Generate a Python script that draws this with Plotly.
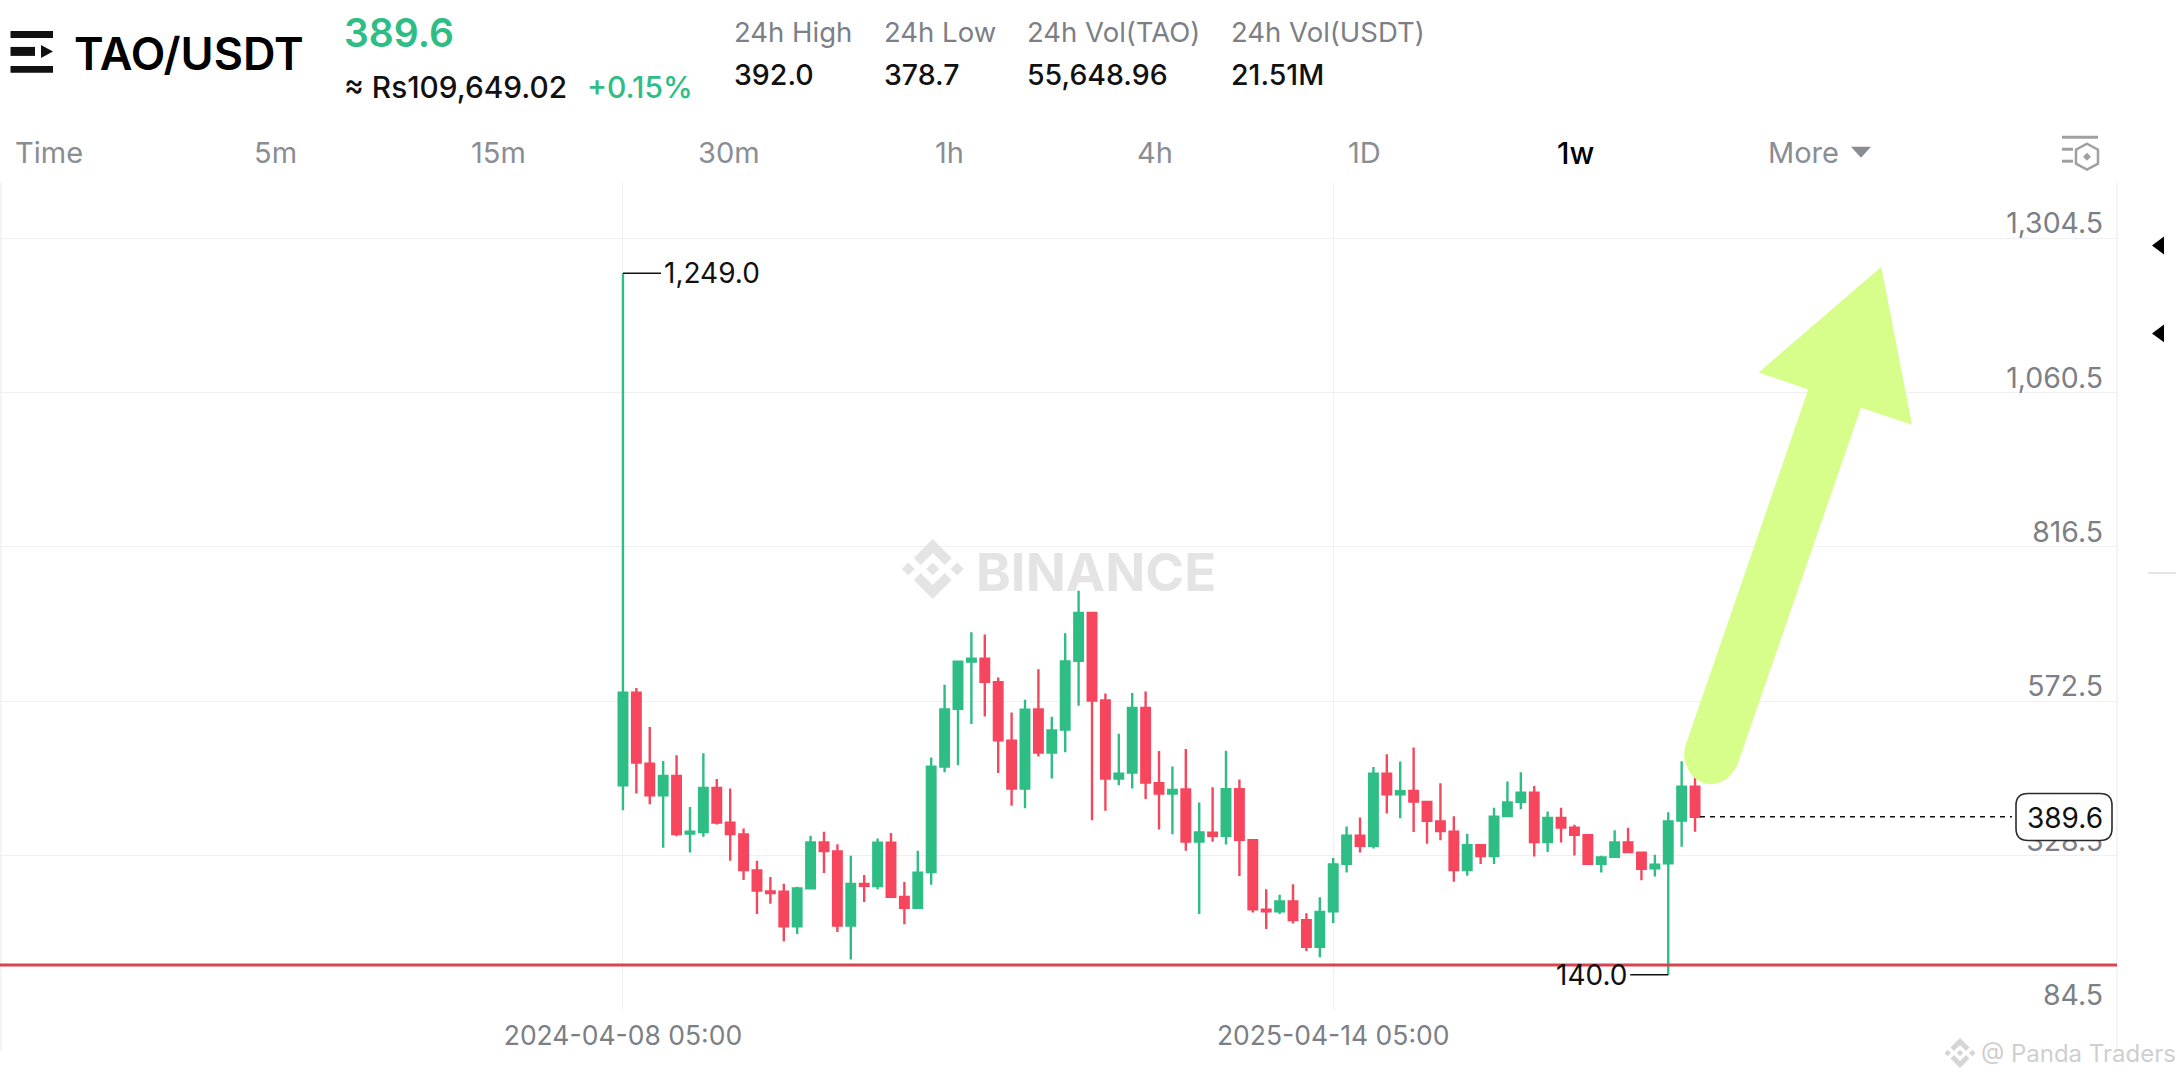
import pandas as pd
import plotly.graph_objects as go

W, H = 2176, 1080

# ---- data ----
first_week = "2024-04-08 05:00"
opens = [439.6,586,473.8,423.8,454.3,363.3,365.5,435.4,380.2,361.8,305,271.8,271.3,216.6,276.6,349,335,217.6,283.4,280.2,
         348.6,262.9,246,302.3,469.1,560.6,635.3,639.5,602.7,510.1,434.4,559.5,491.2,527.5,636.3,712.1,573.7,450.1,459.6,561.7,
         442.8,426.5,432.8,350.7,364.4,359.7,433.3,352.8,242.9,240.3,256,226.1,184,240.3,315.5,359.7,343.9,458,425.4,430.7,
         413.3,382.3,366,305.5,344.9,327.6,390.7,413.3,428,349.7,388,372.3,360.7,315.5,326.5,349,332.8,308.1,316,383.8,437.5]
closes = [585.8,475.4,423.8,454.3,362.3,366,435.4,380.7,362.3,305.5,272.9,269.2,216.6,276.6,349,335.5,217.6,283.4,280.8,348.6,
          263.4,246,301.3,469.1,559.5,634.8,639.5,603.2,510.6,434.4,559,491.2,526.4,635.3,712.1,573.7,450.1,458,561.7,443.8,
          426.5,432.3,350.7,364.9,359.7,433.3,353.4,243.4,240.3,256,226.6,184,239.2,314.4,359.7,343.9,458,425.4,430.2,413.8,
          383.3,367,305.5,344.9,327.6,389.7,412.3,428,349.7,388,372.8,361.2,315.5,325.5,349,333.9,307.6,313.9,382.3,437.5,389.6]
highs = [1249,593.2,531.7,478,487,405.4,490.1,449.6,434.4,371.2,320.2,294.4,284,279.2,359.7,366,346.5,328.1,297.6,355.5,
         363.9,286.5,336,483.3,598.5,635.8,681.6,677.9,610,554.8,574.8,623.2,548,680,747.3,712.1,584.8,521.2,585.3,587.9,
         493.8,469.1,497,412.3,436.5,494.3,448.6,354.4,275,266.6,282.9,237.1,262.4,324.4,374.4,388.6,468.6,488.5,477,499.1,
         414.9,442.8,390.7,362.8,346.5,403.9,445.4,460.1,438.6,398.1,403.9,377,362.3,328.1,368.6,372.3,333.9,329.7,397,477.4,454.3]
lows = [400.2,426.5,409.6,340.7,359,333.4,358.1,377.6,320.2,289.7,236.1,252.4,193,204.5,275.5,300.8,207.6,164,255,275,
        261.3,219.8,246,282.3,460.1,471.2,536.4,548.5,459.1,407,403.3,484.9,450.1,491.7,565.3,384.4,399.1,439.6,434.4,418,
        369.7,362.3,336,236.1,350.2,346,296,238.2,212.4,236.1,220.8,177.7,167.7,221.9,301.8,333.4,339.7,394.9,387.5,365.5,
        347,352.8,287.1,296.5,315,315,390.7,401.8,327.1,333.9,349.1,328.6,315.5,301.8,325.5,332.8,289.2,295.5,140,342.2,365.9]
price_ticks = [84.5, 328.5, 572.5, 816.5, 1060.5, 1304.5]
price_tick_labels = ["84.5", "328.5", "572.5", "816.5", "1,060.5", "1,304.5"]
date_ticks = ["2024-04-08 05:00", "2025-04-14 05:00"]
support_level = 155.5
last_price = 389.6
high_mark = 1249.0
low_mark = 140.0

dates = pd.date_range(first_week, periods=len(opens), freq="7D")

# ---- styles ----
GREEN, RED = "#2EBD85", "#F6465D"
GRID = "#F0F0F0"
GRAY = "#7C7F85"
FONT = "Inter"
PLOT_L, PLOT_R, PLOT_T, PLOT_B = 0, 2117, 183, 1012


def px(x):
    return x / W


def py(y):
    return 1 - y / H


def pts(points, close=True):
    s = "M " + " L ".join(f"{px(x):.5f},{py(y):.5f}" for x, y in points)
    return s + (" Z" if close else "")


t0 = pd.Timestamp(first_week)
fig = go.Figure(go.Candlestick(
    x=dates, open=opens, high=highs, low=lows, close=closes,
    increasing=dict(line=dict(color=GREEN, width=2.4), fillcolor=GREEN),
    decreasing=dict(line=dict(color=RED, width=2.4), fillcolor=RED),
    whiskerwidth=0, showlegend=False,
))

annotations = []


def text(x, y, s, size, color="#1E2329", anchor="left", weight=400):
    annotations.append(dict(
        xref="paper", yref="paper", x=px(x), y=py(y), text=s, showarrow=False,
        xanchor=anchor, yanchor="middle", borderpad=0,
        font=dict(family=FONT, size=size, color=color, weight=weight),
    ))


# header
text(73, 54, "TAO/USDT", 45, "#000000", weight=600)
text(343, 33, "389.6", 39, GREEN, weight=600)
text(343, 87, "≈ Rs109,649.02", 29.8, "#111111", weight=500)
text(586, 87, "+0.15%", 30, GREEN, weight=500)
for x, a, b in [(733, "24h High", "392.0"), (883, "24h Low", "378.7"),
                (1026, "24h Vol(TAO)", "55,648.96"), (1230, "24h Vol(USDT)", "21.51M")]:
    text(x, 32, a, 27.5, GRAY)
    text(x, 75, b, 28.5, "#111111", weight=500)
# interval tabs
for x, s in [(49, "Time"), (275, "5m"), (498, "15m"), (729, "30m"), (949, "1h"),
             (1155, "4h"), (1364, "1D"), (1803, "More")]:
    text(x, 153, s, 29, "#8A8D93", anchor="center")
text(1575, 153, "1w", 30, "#000000", anchor="center", weight=500)
# watermarks
text(1096, 573, "BINANCE", 52.7, "#E4E4E4", anchor="center", weight=700)
text(1980, 1055, "@ Panda Traders", 24, "#CFCFCF")
# price marks
text(2065, 820, "389.6", 28, "#111111", anchor="center", weight=400)
for value, label, ax, anchor in [(high_mark, "1,249.0", 38, "left"), (low_mark, "140.0", -38, "right")]:
    i = highs.index(value) if value == high_mark else lows.index(value)
    annotations.append(dict(
        x=dates[i], y=value, xref="x", yref="y", text=label, showarrow=True, arrowhead=0,
        arrowwidth=1.5, arrowcolor="#111111", ax=ax, ay=0, xanchor=anchor, yanchor="middle",
        standoff=0, startstandoff=0, borderpad=2,
        font=dict(family=FONT, size=28, color="#111111"),
    ))

shapes = []


def poly(points, fill, layer="above"):
    shapes.append(dict(type="path", xref="paper", yref="paper", path=pts(points),
                       fillcolor=fill, line=dict(width=0), layer=layer))


def seg(x0, y0, x1, y1, color, width=1.5):
    shapes.append(dict(type="line", xref="paper", yref="paper", x0=px(x0), x1=px(x1),
                       y0=py(y0), y1=py(y1), line=dict(color=color, width=width), layer="below"))


# chart frame
seg(1, PLOT_T, 1, 1053, GRID, 1.5)
seg(PLOT_R, PLOT_T, PLOT_R, 1053, GRID, 1.5)

# support line and last price line
shapes.append(dict(type="line", xref="paper", yref="y", x0=px(PLOT_L), x1=px(PLOT_R),
                   y0=support_level, y1=support_level, line=dict(color="#D8434F", width=3)))
shapes.append(dict(type="line", xref="paper", yref="y", x0=px(1700), x1=px(2012),
                   y0=last_price, y1=last_price, line=dict(color="#111111", width=1.5, dash="5px,5px")))

# last price box, rounded
bx0, bx1, by0, by1, r = 2016, 2112, 795, 842, 12
p = (f"M {px(bx0+r)},{py(by0)} L {px(bx1-r)},{py(by0)} Q {px(bx1)},{py(by0)} {px(bx1)},{py(by0+r)} "
     f"L {px(bx1)},{py(by1-r)} Q {px(bx1)},{py(by1)} {px(bx1-r)},{py(by1)} L {px(bx0+r)},{py(by1)} "
     f"Q {px(bx0)},{py(by1)} {px(bx0)},{py(by1-r)} L {px(bx0)},{py(by0+r)} Q {px(bx0)},{py(by0)} {px(bx0+r)},{py(by0)} Z")
shapes.append(dict(type="path", xref="paper", yref="paper", path=p, fillcolor="#FFFFFF",
                   line=dict(color="#2A2A2A", width=1.6)))

# big arrow
arrow = (f"M {px(1881.3)},{py(267.3)} L {px(1912)},{py(425.5)} L {px(1861)},{py(408.4)} L {px(1738.3)},{py(763.6)} "
         f"C {px(1728)},{py(792)} {px(1695)},{py(793)} {px(1686)},{py(766)} "
         f"C {px(1683)},{py(757)} {px(1684)},{py(752)} {px(1686)},{py(745.5)} "
         f"L {px(1808.3)},{py(390.2)} L {px(1758.7)},{py(373.1)} Z")
shapes.append(dict(type="path", xref="paper", yref="paper", path=arrow,
                   fillcolor="#D7FE8A", line=dict(width=0)))

# header menu icon
for y0, y1 in [(31, 38), (66, 73)]:
    poly([(10.5, y0), (53, y0), (53, y1), (10.5, y1)], "#111111")
poly([(10.5, 47), (35, 47), (35, 56), (10.5, 56)], "#111111")
poly([(41, 45), (53, 51.5), (41, 58)], "#111111")

# "More" caret
poly([(1851, 147), (1871, 147), (1861, 158)], "#8A8D93")

# settings icon
for y0, y1, x1 in [(136, 139, 2098), (148, 151, 2073), (160, 163, 2073)]:
    poly([(2062, y0), (x1, y0), (x1, y1), (2062, y1)], "#A0A0A0")
cx, cy = 2087, 157
shapes.append(dict(type="path", xref="paper", yref="paper", line=dict(color="#A0A0A0", width=2.5),
                   path=pts([(cx, cy-13), (cx+11, cy-7), (cx+11, cy+7), (cx, cy+13), (cx-11, cy+7), (cx-11, cy-7)])))
poly([(cx, cy-4), (cx+4, cy), (cx, cy+4), (cx-4, cy)], "#A0A0A0")

# side-panel carets
for y in (246, 334):
    poly([(2164, y-9), (2164, y+9), (2152, y)], "#000000")
seg(2148, 574, 2176, 574, "#DDDDDD", 1.5)


# Binance logo marks
def binance_logo(cx, cy, s, fill):
    def tr(items):
        return [(cx + a * s, cy + b * s) for a, b in items]
    poly(tr([(0, -30), (19, -11), (12, -4), (0, -16), (-12, -4), (-19, -11)]), fill)
    poly(tr([(0, 30), (19, 11), (12, 4), (0, 16), (-12, 4), (-19, 11)]), fill)
    for dx in (-24.5, 0, 24.5):
        poly(tr([(dx, -6.5), (dx+6.5, 0), (dx, 6.5), (dx-6.5, 0)]), fill)


binance_logo(932.7, 570, 1.0, "#E4E4E4")
binance_logo(1960, 1055, 0.5, "#D5D5D5")

units_per_px = 244 / 154.6
fig.update_layout(
    width=W, height=H, autosize=False,
    margin=dict(l=0, r=0, t=0, b=0, pad=0),
    paper_bgcolor="#FFFFFF", plot_bgcolor="#FFFFFF",
    font=dict(family=FONT, color=GRAY),
    boxgap=0.26, boxgroupgap=0.14,
    xaxis=dict(
        domain=[px(PLOT_L), px(PLOT_R)],
        range=[t0 - pd.Timedelta(days=325.4), t0 + pd.Timedelta(days=780.4)],
        rangeslider=dict(visible=False), tickmode="array",
        tickvals=date_ticks, ticktext=date_ticks, ticklabelstandoff=7,
        tickfont=dict(family=FONT, size=26.5, color=GRAY),
        showgrid=True, gridcolor=GRID, gridwidth=1.2, showline=False, zeroline=False, ticks="",
    ),
    yaxis=dict(
        domain=[py(PLOT_B), py(PLOT_T)],
        range=[84.5 + (1011.7 - PLOT_B) * units_per_px, 84.5 + (1011.7 - PLOT_T) * units_per_px],
        side="right", tickmode="array", tickvals=price_ticks, ticktext=price_tick_labels,
        ticklabelposition="inside top", ticklabelstandoff=11, ticklabelshift=5,
        ticklabeloverflow="allow",
        tickfont=dict(family=FONT, size=28.4, color=GRAY),
        showgrid=True, gridcolor=GRID, gridwidth=1.2, showline=False, zeroline=False, ticks="",
    ),
    annotations=annotations, shapes=shapes, hovermode=False,
)

fig.write_html("out.html", config=dict(displayModeBar=False),
               post_script="document.body.style.margin='0';document.body.style.overflow='hidden';")
